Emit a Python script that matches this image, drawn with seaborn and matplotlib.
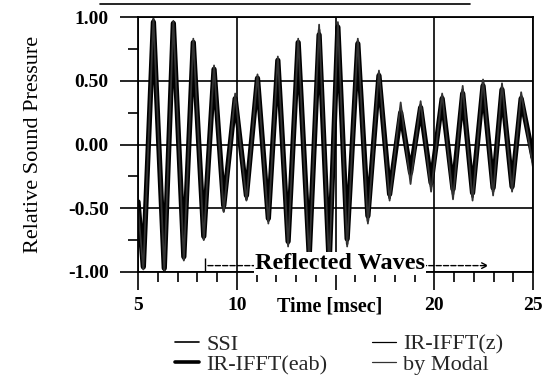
import matplotlib
matplotlib.use('Agg')
import matplotlib.pyplot as plt
from matplotlib.lines import Line2D
from matplotlib.ticker import MultipleLocator
import pandas as pd
import seaborn as sns
import numpy as np

# extrema of the waveforms (time in msec)
time_ms = [5.00, 5.27, 5.78, 6.33, 6.79, 7.32, 7.80, 8.33, 8.85, 9.34,
           9.92, 10.49, 11.05, 11.60, 12.08, 12.60, 13.11, 13.67, 14.17, 14.68,
           15.12, 15.59, 16.13, 16.64, 17.20, 17.74, 18.30, 18.80, 19.31, 19.84,
           20.40, 20.95, 21.44, 21.94, 22.47, 22.98, 23.43, 23.94, 24.40, 25.00]

ssi = [-0.47, -0.97, 0.98, -0.99, 0.96, -0.90, 0.81, -0.74, 0.60, -0.52,
       0.37, -0.43, 0.53, -0.60, 0.67, -0.78, 0.81, -0.89, 0.90, -0.95,
       0.94, -0.78, 0.81, -0.60, 0.56, -0.42, 0.28, -0.26, 0.31, -0.33,
       0.38, -0.39, 0.43, -0.41, 0.49, -0.37, 0.45, -0.35, 0.38, -0.14]

ir_ifft_eab = [-0.45, -0.96, 0.96, -0.97, 0.95, -0.88, 0.80, -0.72, 0.59, -0.48,
               0.36, -0.40, 0.52, -0.58, 0.66, -0.76, 0.80, -0.87, 0.86, -0.93,
               0.92, -0.74, 0.79, -0.56, 0.54, -0.39, 0.25, -0.22, 0.29, -0.30,
               0.36, -0.35, 0.40, -0.38, 0.46, -0.34, 0.43, -0.33, 0.36, -0.10]

ir_ifft_z = [-0.44, -0.95, 0.97, -0.98, 0.94, -0.89, 0.79, -0.73, 0.58, -0.50,
             0.35, -0.42, 0.51, -0.59, 0.65, -0.77, 0.79, -0.88, 0.88, -0.94,
             0.93, -0.76, 0.80, -0.58, 0.55, -0.41, 0.26, -0.24, 0.30, -0.32,
             0.37, -0.37, 0.41, -0.40, 0.47, -0.36, 0.44, -0.34, 0.37, -0.12]

by_modal = [-0.50, -0.98, 0.99, -0.99, 0.97, -0.91, 0.83, -0.75, 0.62, -0.53,
            0.40, -0.44, 0.55, -0.62, 0.69, -0.80, 0.83, -0.91, 0.94, -0.97,
            0.96, -0.80, 0.83, -0.62, 0.58, -0.44, 0.33, -0.31, 0.34, -0.37,
            0.40, -0.43, 0.46, -0.44, 0.51, -0.40, 0.48, -0.37, 0.41, -0.18]

series_names = ['SSI', 'IR-IFFT(eab)', 'IR-IFFT(z)', 'by Modal']
series_values = [ssi, ir_ifft_eab, ir_ifft_z, by_modal]
series_width = [1.8, 3.8, 1.5, 1.3]
legend_width = [1.2, 2.6, 0.9, 0.9]
series_color = ['black', 'black', 'black', '#333333']

x_ticks = [5, 10, 15, 20, 25]
x_tick_labels = ['5', '10', '', '20', '25']
y_ticks = [-1.0, -0.5, 0.0, 0.5, 1.0]
y_tick_labels = ['-1.00', '-0.50', '0.00', '0.50', '1.00']

sns.set_style('ticks')
plt.rcParams['font.family'] = ['Liberation Serif', 'DejaVu Serif']

fig = plt.figure(figsize=(5.43, 3.75), dpi=100)
ax = fig.add_axes([138 / 543, 1 - 272 / 375, 395 / 543, 255 / 375])

for name, vals, lw, col in zip(series_names, series_values, series_width, series_color):
    df = pd.DataFrame({'t': time_ms, 'p': vals})
    sns.lineplot(data=df, x='t', y='p', ax=ax, color=col, linewidth=lw,
                 estimator=None, sort=False, label=name, legend=False)

ax.set_xlim(5, 25)
ax.set_ylim(-1, 1)
ax.set_xticks(x_ticks)
ax.set_xticklabels(x_tick_labels)
ax.set_yticks(y_ticks)
ax.set_yticklabels(y_tick_labels)
ax.xaxis.set_minor_locator(MultipleLocator(1))
ax.yaxis.set_minor_locator(MultipleLocator(0.25))
ax.tick_params(which='major', direction='out', length=13, width=1.2,
               labelsize=14, color='black', labelcolor='black')
ax.tick_params(axis='y', which='major', pad=8)
ax.tick_params(axis='x', which='major', pad=5)
ax.tick_params(which='minor', direction='out', length=7, width=1.2, color='black')
for lab in ax.get_xticklabels() + ax.get_yticklabels():
    lab.set_fontweight('bold')
ax.grid(True, which='major', color='black', linewidth=1.2)
for s in ax.spines.values():
    s.set_color('black')
    s.set_linewidth(1.3)

ax.set_ylabel('Relative Sound Pressure', fontsize=16, color='black')
ax.yaxis.set_label_coords(-0.24, 0.5)
ax.set_xlabel('Time [msec]', fontsize=14.5, fontweight='bold', color='black')
ax.xaxis.set_label_coords(0.486, -0.098)

# reflected waves marker
ax.annotate('', xy=(22.9, -0.95), xytext=(8.4, -0.95),
            arrowprops=dict(arrowstyle='->', linestyle='--', lw=1, color='black'))
ax.vlines(8.4, -1.0, -0.89, color='black', lw=1)
ax.text(15.23, -0.935, 'Reflected Waves', ha='center', va='center', fontsize=17.5,
        fontweight='bold', color='black', zorder=5,
        bbox=dict(facecolor='white', edgecolor='none', pad=0.5))

# scan artefact line at top of the page
fig.add_artist(Line2D([100 / 543, 470 / 543], [1 - 4 / 375, 1 - 4 / 375],
                      transform=fig.transFigure, color='black', lw=1.2))

handles = [Line2D([], [], color=c, lw=w) for c, w in zip(series_color, legend_width)]
fig.legend(handles, series_names, loc='upper left', ncol=2,
           bbox_to_anchor=(175 / 543, 1 - 334 / 375), frameon=False,
           fontsize=16, handlelength=1.1, handletextpad=0.3,
           columnspacing=2.0, labelspacing=0.0, borderpad=0, borderaxespad=0)

fig.savefig('out.png', dpi=100)
